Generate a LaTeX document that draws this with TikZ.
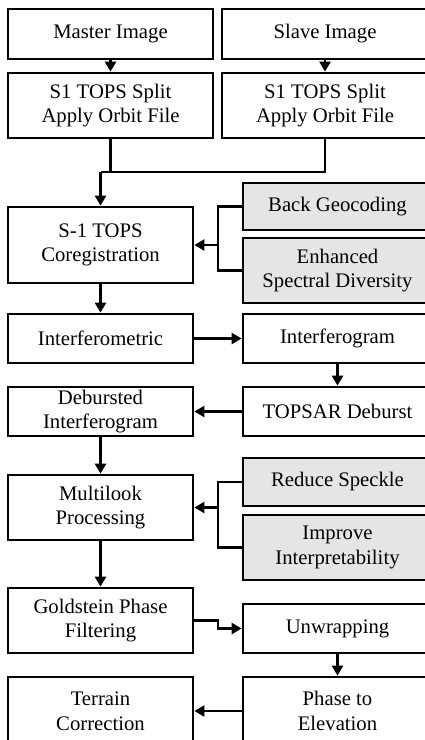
\documentclass[tikz,border=0pt]{standalone}
\usepackage{fontspec}
\setmainfont{Liberation Serif}
\usetikzlibrary{arrows.meta,calc}
\tikzset{%
  procbox/.style = {shape=rectangle, draw, line width=2.8pt,%
                    align=center, inner sep=0pt, fill=white},%
  optbox/.style  = {procbox, fill=gray!20},%
  wideL/.style   = {procbox, minimum width=205pt},%
  wideR/.style   = {procbox, minimum width=206pt},%
  colL/.style    = {procbox, minimum width=185pt},%
  colR/.style    = {procbox, minimum width=189pt},%
  flow/.style    = {line width=2.8pt},%
  flowarrow/.style = {flow, -{Triangle[length=10pt,width=11pt]}}%
}

\begin{document}
\begin{tikzpicture}[x=1pt,y=-1pt, every node/.style = {font=\fontsize{20.7}{24.5}\selectfont}]%
	\clip (0,0) rectangle (425,740);
	\fill[white] (0,0) rectangle (425,740);
	% input images
	\node [wideL, minimum height=50pt] (master) at (110.5,34) {Master Image};
	\node [wideR, minimum height=50pt] (slave)  at (325,34)   {Slave Image};
	\node [wideL, minimum height=65pt] (splitm) at (110.5,105.5) {S1 TOPS Split\\Apply Orbit File};
	\node [wideR, minimum height=65pt] (splits) at (325,105.5)   {S1 TOPS Split\\Apply Orbit File};
	% coregistration
	\node [colL, minimum height=76pt] (coreg) at (100.5,245) {S-1 TOPS\\Coregistration};
	\node [colR, optbox, minimum height=47pt] (backgeo) at (337.5,206.5) {Back Geocoding};
	\node [colR, optbox, minimum height=65pt] (esd) at (337.5,270.5) {Enhanced\\Spectral Diversity};
	% interferogram
	\node [colL, minimum height=49pt] (interfm) at (100.5,338.5) {Interferometric};
	\node [colR, minimum height=49pt] (ifg) at (337.5,338.5) {Interferogram};
	\node [colR, minimum height=49pt] (deburst) at (337.5,411.5) {TOPSAR Deburst};
	\node [colL, minimum height=49pt] (debursted) at (100.5,411.5) {Debursted\\Interferogram};
	% multilook
	\node [colL, minimum height=65pt] (multilook) at (100.5,507.5) {Multilook\\Processing};
	\node [colR, optbox, minimum height=48pt] (speckle) at (337.5,482) {Reduce Speckle};
	\node [colR, optbox, minimum height=65pt] (interp) at (337.5,547.5) {Improve\\Interpretability};
	% phase
	\node [colL, minimum height=65pt] (goldstein) at (100.5,620.5) {Goldstein Phase\\Filtering};
	\node [colR, minimum height=49pt] (unwrap) at (337.5,628.5) {Unwrapping};
	\node [colR, minimum height=68pt] (phase) at (337.5,711) {Phase to\\Elevation};
	\node [colL, minimum height=68pt] (terrain) at (100.5,711) {Terrain\\Correction};
	% junctions
	\coordinate (j1) at (100.5,172);
	\coordinate (b1) at (218,245);
	\coordinate (b2) at (218,507.5);
	\coordinate (b3) at (218,620.5);
	% connectors
	\draw [flowarrow] (master) -- (splitm);
	\draw [flowarrow] (slave) -- (splits);
	\draw [flow] (splitm.south) -- (splitm.south |- j1);
	\draw [flow] (splits.south) |- (j1);
	\draw [flowarrow] (j1) -- (coreg.north);
	\draw [flow] (backgeo.west) -| (b1) |- (esd.west);
	\draw [flowarrow] (b1) -- (coreg.east);
	\draw [flowarrow] (coreg) -- (interfm);
	\draw [flowarrow] (interfm) -- (ifg);
	\draw [flowarrow] (ifg) -- (deburst);
	\draw [flowarrow] (deburst) -- (debursted);
	\draw [flowarrow] (debursted) -- (multilook);
	\draw [flow] (speckle.west) -| (b2) |- (interp.west);
	\draw [flowarrow] (b2) -- (multilook.east);
	\draw [flowarrow] (multilook) -- (goldstein);
	\draw [flowarrow] (goldstein.east) -- (b3) |- (unwrap.west);
	\draw [flowarrow] (unwrap) -- (phase);
	\draw [flowarrow] (phase) -- (terrain);
\end{tikzpicture}
\end{document}
